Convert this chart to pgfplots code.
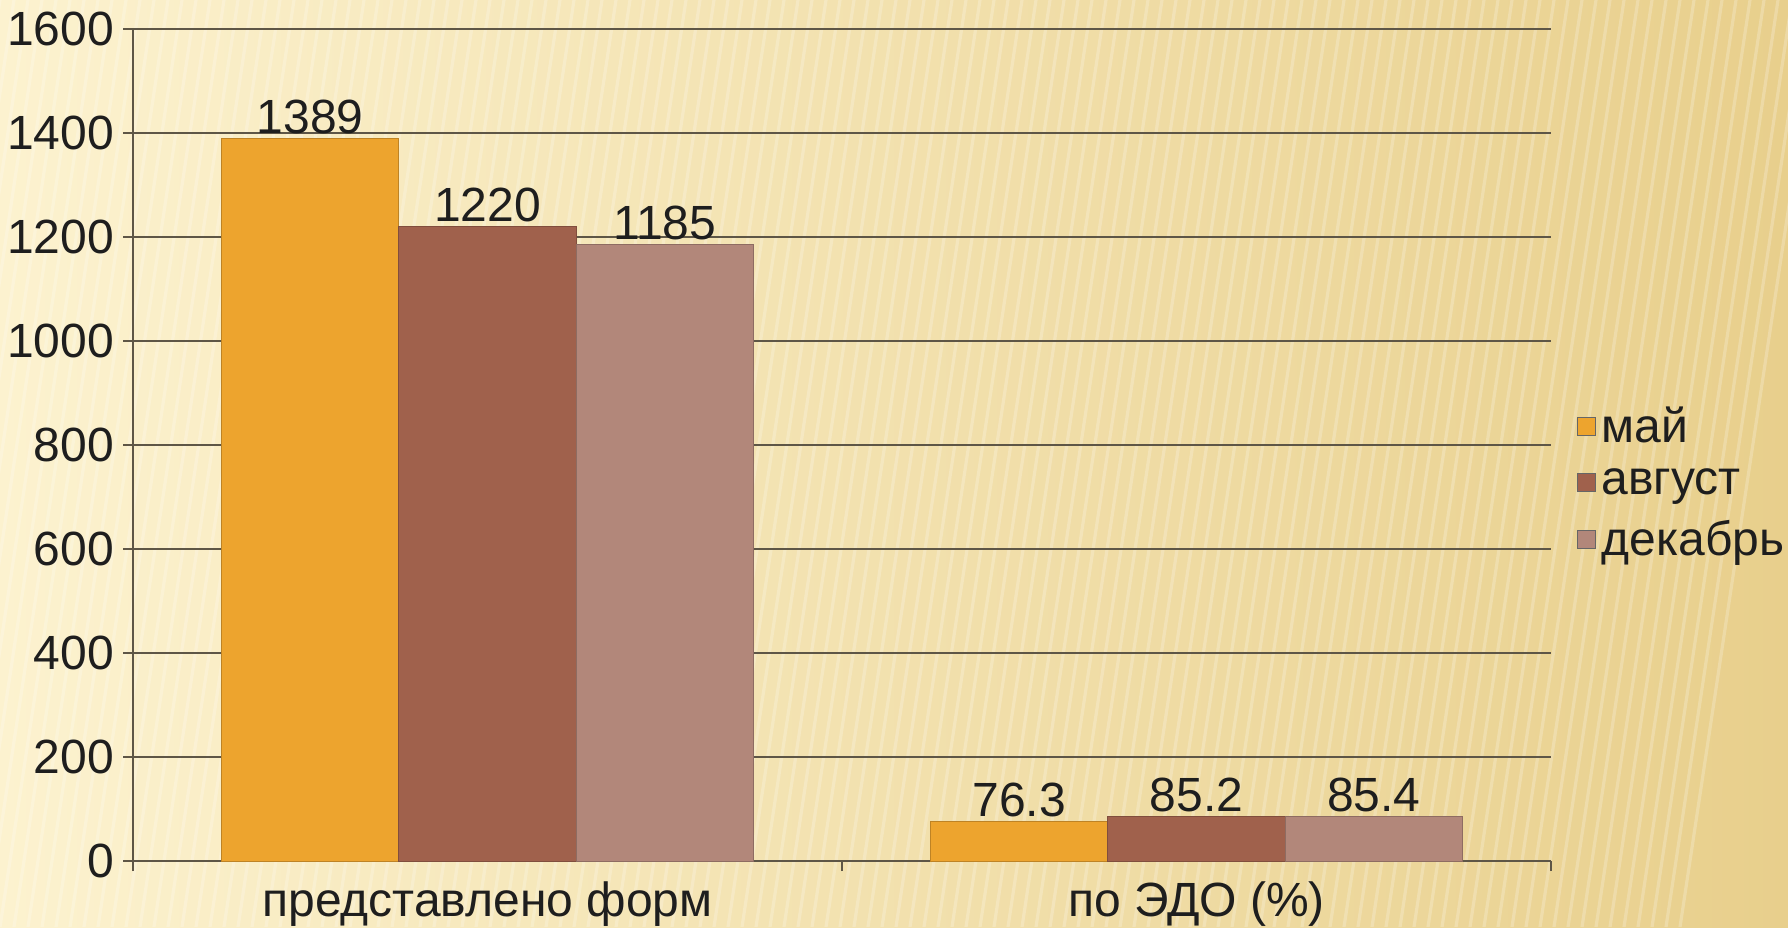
\documentclass[border=0pt]{standalone}
\usepackage{pgfplots}
\pgfplotsset{compat=1.18}
\usepackage{fontspec}
\setmainfont{Liberation Sans}
\definecolor{maycol}{HTML}{EDA42E}
\definecolor{augcol}{HTML}{A0614C}
\definecolor{deccol}{HTML}{B2877A}
\definecolor{gridcol}{HTML}{5E5646}
\definecolor{bgA}{HTML}{FCF2CF}
\definecolor{bgB}{HTML}{E8CF8C}
\definecolor{txt}{HTML}{1E1E1E}
\begin{document}
\begin{tikzpicture}
\shade[left color=bgA, right color=bgB] (0pt,0pt) rectangle (894pt,463.5pt);
\begin{scope}
\clip (0pt,0pt) rectangle (894pt,463.5pt);
\foreach \i in {-40,...,120} {
  \draw[white, opacity=0.22, line width=1.6pt] (\i*7pt,0pt) -- (\i*7pt+70pt,463.5pt);
}
\end{scope}
\path[use as bounding box] (0pt,0pt) rectangle (894pt,463.5pt);
\begin{axis}[
  at={(66.5pt,33pt)}, anchor=south west,
  width=709pt, height=416pt, scale only axis,
  xmin=-0.5, xmax=1.5, ymin=0, ymax=1600,
  ytick distance=200,
  ybar=0pt, bar width=0.25,
  axis lines=left, axis line style={-, gridcol, line width=0.8pt},
  ymajorgrids, grid style={gridcol, line width=0.9pt},
  tick align=outside, major tick length=5pt,
  tick style={gridcol, line width=0.8pt},
  xtick={-0.5,0.5,1.5}, xticklabels={},
  extra x ticks={0,1},
  extra x tick labels={представлено форм, по ЭДО (\%)},
  extra x tick style={major tick length=0pt, grid=none},
  ticklabel style={font=\fontsize{24}{29}\selectfont, text=txt},
  yticklabel style={xshift=-1pt},
  xticklabel style={yshift=-7pt},
  /pgf/number format/assume math mode=true,
  /pgf/number format/1000 sep={},
  nodes near coords,
  nodes near coords style={font=\fontsize{24}{29}\selectfont, text=txt, inner sep=2pt},
  legend style={at={(1.018,0.455)}, anchor=west, draw=none, fill=none,
    font=\fontsize{24}{29}\selectfont, text=txt, inner sep=0pt,
    row sep=7.5pt, /tikz/every odd column/.append style={column sep=1pt}},
  legend cell align=left,
  legend image code/.code={\draw[#1, draw=gray!80!black, line width=0.4pt] (0pt,-4.5pt) rectangle (9pt,4.5pt);},
]
\addplot[fill=maycol, draw=maycol!80!black, line width=0.4pt] coordinates {(0,1389) (1,76.3)};
\addplot[fill=augcol, draw=augcol!80!black, line width=0.4pt] coordinates {(0,1220) (1,85.2)};
\addplot[fill=deccol, draw=deccol!80!black, line width=0.4pt] coordinates {(0,1185) (1,85.4)};
\legend{май, август, декабрь}
\end{axis}
\end{tikzpicture}
\end{document}
